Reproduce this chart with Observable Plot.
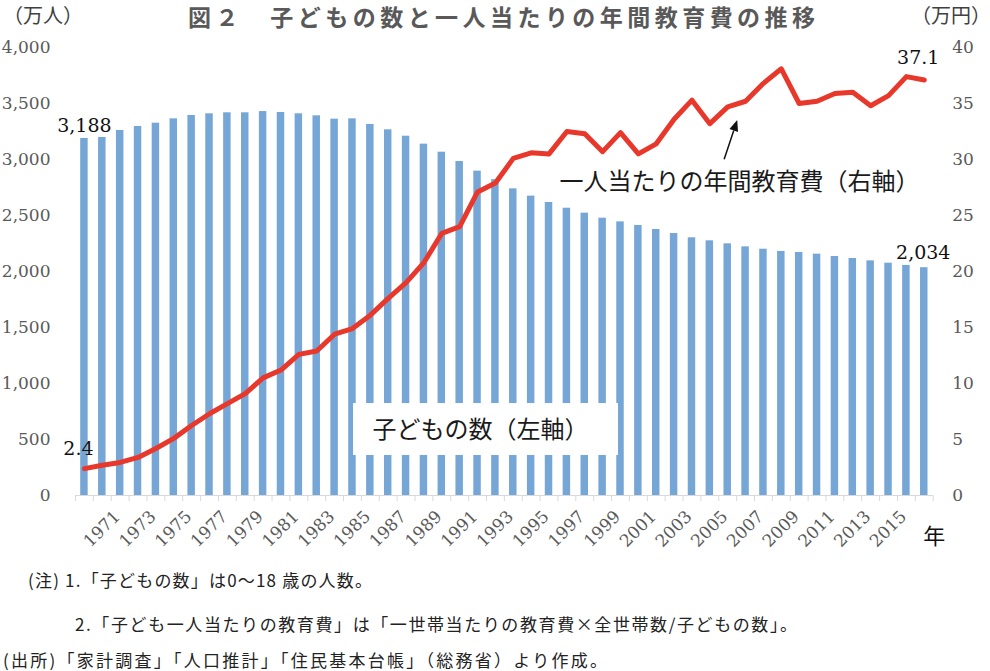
<!DOCTYPE html>
<html><head><meta charset="utf-8">
<script src="https://cdn.jsdelivr.net/npm/d3@7"></script>
<script src="https://cdn.jsdelivr.net/npm/@observablehq/plot@0.6"></script>
<style>
html,body{margin:0;padding:0;background:#fff;overflow:hidden;}
#chart svg{display:block;}
</style></head><body><div id="chart"></div>
<script>
// ---- data ----
const years = [1969,1970,1971,1972,1973,1974,1975,1976,1977,1978,1979,1980,1981,1982,1983,1984,1985,1986,1987,1988,1989,1990,1991,1992,1993,1994,1995,1996,1997,1998,1999,2000,2001,2002,2003,2004,2005,2006,2007,2008,2009,2010,2011,2012,2013,2014,2015,2016];
// 子どもの数（万人, left axis)
const children = [3188,3197,3259,3295,3324,3363,3393,3408,3417,3417,3428,3420,3408,3390,3360,3363,3313,3265,3208,3137,3065,2982,2896,2820,2738,2673,2616,2565,2521,2476,2443,2411,2375,2339,2301,2274,2247,2220,2199,2179,2170,2155,2134,2116,2095,2074,2054,2034];
// 一人当たりの年間教育費（万円, right axis)
const cost = [2.4,2.7,2.95,3.4,4.2,5.1,6.25,7.3,8.2,9.1,10.5,11.2,12.6,12.9,14.4,14.9,16.1,17.6,19.0,20.8,23.4,24.0,27.1,27.9,30.1,30.6,30.5,32.5,32.3,30.7,32.4,30.5,31.4,33.6,35.3,33.2,34.7,35.2,36.8,38.1,35.0,35.2,35.9,36.0,34.8,35.7,37.4,37.1];

const leftTicks = [0,500,1000,1500,2000,2500,3000,3500,4000];
const rightTicks = [0,5,10,15,20,25,30,35,40];
const xTickLabels = [1971,1973,1975,1977,1979,1981,1983,1985,1987,1989,1991,1993,1995,1997,1999,2001,2003,2005,2007,2009,2011,2013,2015];

const titleText = "図２　子どもの数と一人当たりの年間教育費の推移";
const leftUnit = "（万人）";
const rightUnit = "（万円）";
const xUnit = "年";
const notes = [
  "(注) 1.「子どもの数」は0～18 歳の人数。",
  "2.「子ども一人当たりの教育費」は「一世帯当たりの教育費×全世帯数/子どもの数」。",
  "(出所)「家計調査」「人口推計」「住民基本台帳」（総務省）より作成。"
];
// annotation anchors (year, left-axis value)
const seriesLabels = [
  {text: "一人当たりの年間教育費（右軸）", year: 2005.66, value: 2795},
  {text: "子どもの数（左軸）", year: 1991.17, value: 580}
];
const labelBox = [{x1: 1984.06, x2: 1998.89, y1: 357, y2: 821}];
const arrowSpec = {year1: 2004.83, v1: 2997, year2: 2005.56, v2: 3348};

// ---- build ----
const W = 990, H = 671;
const k = 100; // 40万円 ↔ 4000万人
const table = years.map((year, i) => ({year, children: children[i], cost: cost[i]}));
const first = table[0], last = table[table.length - 1];
const boundaries = years.map(y => y - 0.5).concat([years[years.length - 1] + 0.5]);
const serif = "'DejaVu Serif', serif";
const cjk = "'Noto Sans CJK JP', sans-serif";

const chart = Plot.plot({
  width: W, height: H,
  marginTop: 47, marginBottom: 176, marginLeft: 75, marginRight: 57.3,
  x: {type: "linear", domain: [boundaries[0], boundaries[boundaries.length - 1]]},
  y: {domain: [0, 4000]},
  style: {fontFamily: serif, fontSize: "17px", background: "#fff", overflow: "visible"},
  marks: [
    Plot.rectY(table, {x1: d => d.year - 0.5, x2: d => d.year + 0.5, y: "children", insetLeft: 5.2, insetRight: 5.2, fill: "#75a6d6"}),
    Plot.ruleY([0], {stroke: "#d9d9d9", strokeWidth: 1}),
    Plot.axisX({ticks: boundaries, tickSize: 6, tickFormat: () => "", color: "#d9d9d9"}),
    Plot.text(xTickLabels, {x: d => d, text: d => String(d), frameAnchor: "bottom", rotate: -45, textAnchor: "end", dx: 1, dy: 22, fill: "#595959", fontSize: 17, fontFamily: serif}),
    Plot.axisY(leftTicks, {anchor: "left", tickSize: 0, tickPadding: 25, tickFormat: d3.format(","), color: "#595959", fontSize: 17, fontFamily: serif}),
    Plot.axisY(rightTicks.map(v => v * k), {anchor: "right", tickSize: 0, tickPadding: 19, tickFormat: d => String(d / k), color: "#595959", fontSize: 17, fontFamily: serif}),
    Plot.rect(labelBox, {x1: "x1", x2: "x2", y1: "y1", y2: "y2", fill: "#fff"}),
    Plot.line(table, {x: "year", y: d => d.cost * k, stroke: "#e8382b", strokeWidth: 5, strokeLinejoin: "round", strokeLinecap: "round"}),
    Plot.text([first], {x: "year", y: "children", text: d => d3.format(",")(d.children), dy: -13, fill: "#111", fontSize: 19, fontFamily: serif}),
    Plot.text([last], {x: "year", y: "children", text: d => d3.format(",")(d.children), dx: -1, dy: -15, fill: "#111", fontSize: 19, fontFamily: serif}),
    Plot.text([first], {x: "year", y: d => d.cost * k, text: d => String(d.cost), dx: -6, dy: -20, fill: "#111", fontSize: 19, fontFamily: serif}),
    Plot.text([last], {x: "year", y: d => d.cost * k, text: d => String(d.cost), dx: -6, dy: -22, fill: "#111", fontSize: 19, fontFamily: serif}),
    Plot.text(seriesLabels, {x: "year", y: "value", text: "text", fill: "#1a1a1a", fontSize: 24, fontFamily: cjk})
  ]
});
document.getElementById("chart").appendChild(chart);

// ---- extras: arrow, titles, notes ----
const svg = d3.select(chart);
const sx = chart.scale("x"), sy = chart.scale("y");
{
  const x1 = sx.apply(arrowSpec.year1), y1 = sy.apply(arrowSpec.v1);
  const x2 = sx.apply(arrowSpec.year2), y2 = sy.apply(arrowSpec.v2);
  const dx = x2 - x1, dy = y2 - y1, len = Math.hypot(dx, dy);
  const ux = dx / len, uy = dy / len, hl = 11, hw = 4.5;
  const bx = x2 - ux * hl, by = y2 - uy * hl;
  svg.append("line").attr("x1", x1).attr("y1", y1).attr("x2", bx).attr("y2", by)
    .attr("stroke", "#111").attr("stroke-width", 1.5);
  svg.append("path")
    .attr("d", `M${x2},${y2}L${bx - uy * hw},${by + ux * hw}L${bx + uy * hw},${by - ux * hw}Z`)
    .attr("fill", "#111");
}
const extra = svg.append("g").attr("text-anchor", "start");
extra.append("text").text(titleText)
  .attr("x", 188).attr("y", 16).attr("dominant-baseline", "central").attr("text-anchor", "start")
  .attr("textLength", 627).attr("lengthAdjust", "spacing")
  .attr("font-family", cjk).attr("font-size", 23).attr("font-weight", "bold").attr("fill", "#595959");
extra.append("text").text(leftUnit)
  .attr("x", 3).attr("y", 14).attr("dominant-baseline", "central").attr("text-anchor", "start")
  .attr("font-family", cjk).attr("font-size", 20).attr("fill", "#404040");
extra.append("text").text(rightUnit)
  .attr("x", 911).attr("y", 14).attr("dominant-baseline", "central").attr("text-anchor", "start")
  .attr("font-family", cjk).attr("font-size", 20).attr("fill", "#404040");
extra.append("text").text(xUnit)
  .attr("x", sx.range[1] + 1.5).attr("y", sy.range[0] + 39).attr("text-anchor", "middle").attr("dominant-baseline", "central")
  .attr("font-family", cjk).attr("font-size", 22).attr("fill", "#111");
const noteLayout = [{x: 28, y: 579, len: 344}, {x: 75, y: 623, len: 722}, {x: 3, y: 659, len: 604}];
notes.forEach((t, i) => {
  extra.append("text").text(t)
    .attr("x", noteLayout[i].x).attr("y", noteLayout[i].y).attr("dominant-baseline", "central").attr("text-anchor", "start")
    .attr("textLength", noteLayout[i].len).attr("lengthAdjust", "spacing")
    .attr("font-family", cjk).attr("font-size", 17).attr("fill", "#222");
});
</script>
</body></html>
